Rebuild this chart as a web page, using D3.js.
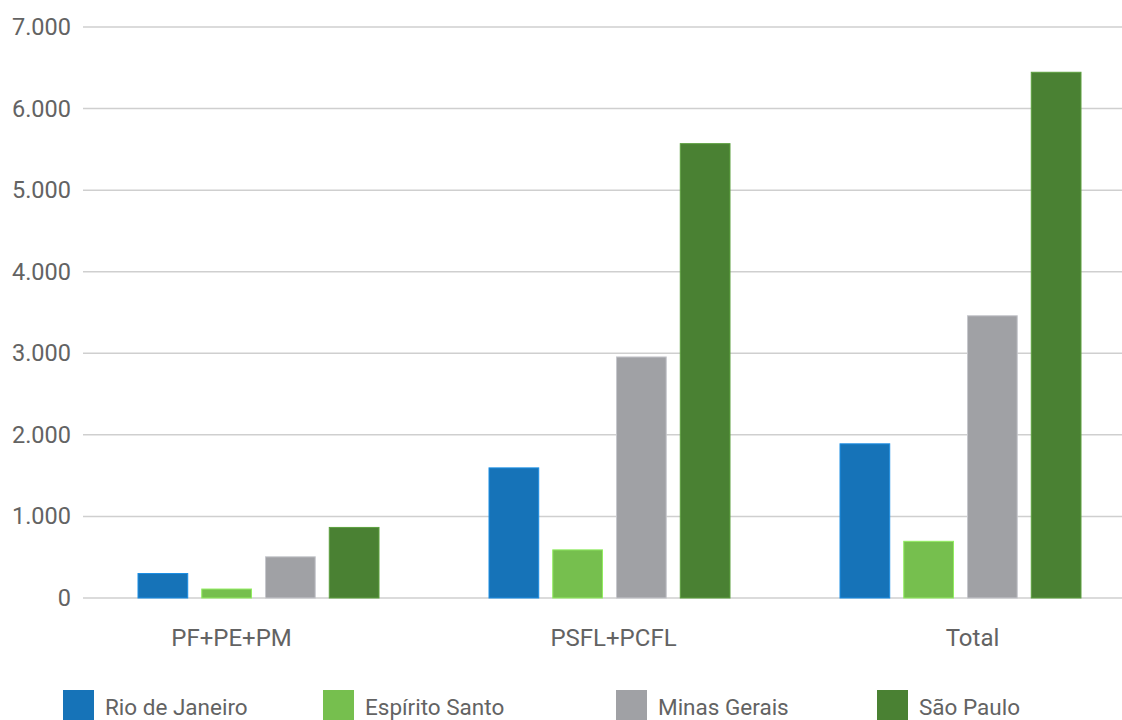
<!DOCTYPE html>
<html>
<head>
<meta charset="utf-8">
<script src="https://cdn.jsdelivr.net/npm/d3@7"></script>
<style>
    body { margin: 0; background: #fff; }
    text { font-family: Roboto, "Noto Sans", sans-serif; fill: #636363; }
</style>
</head>
<body>
<script>
    let categories = ["PF+PE+PM", "PSFL+PCFL", "Total"];
    let seriesNames = ["Rio de Janeiro", "Espírito Santo", "Minas Gerais", "São Paulo"];
    let seriesColors = ["#1673b8", "#76bf4e", "#a0a1a5", "#4a8133"];
    let rioValues = [300, 1595, 1890];
    let espiritoValues = [110, 590, 695];
    let minasValues = [505, 2955, 3460];
    let saoPauloValues = [865, 5570, 6445];
    let yTicks = [0, 1000, 2000, 3000, 4000, 5000, 6000, 7000];

    let allValues = [rioValues, espiritoValues, minasValues, saoPauloValues];

    window.onload = function () {
        let width = 1122,
            height = 720;

        let svg = d3.select("body")
            .append("svg")
            .attr("width", width)
            .attr("height", height);

        //x scale for the groups, and one inside each group for the states
        let x0 = d3.scaleBand()
            .domain(categories)
            .range([83, 1136])
            .padding(0);

        let x1 = d3.scaleBand()
            .domain(seriesNames)
            .range([55, 296])
            .paddingInner(0.22);

        let y = d3.scaleLinear()
            .domain([0, 7000])
            .range([598, 27]);

        //gridlines
        svg.selectAll(".grid")
            .data(yTicks)
            .enter()
            .append("line")
            .attr("class", "grid")
            .attr("x1", 83)
            .attr("x2", width)
            .attr("y1", function (d) { return y(d); })
            .attr("y2", function (d) { return y(d); })
            .attr("stroke", "#cfcfcf")
            .attr("stroke-width", 1.5);

        //y axis labels
        let fmt = function (d) {
            return d3.format(",")(d).replace(/,/g, ".");
        };
        let yAxis = d3.axisLeft(y)
            .tickValues(yTicks)
            .tickFormat(fmt)
            .tickSize(0)
            .tickPadding(12);
        let yG = svg.append("g")
            .attr("transform", "translate(83,0)")
            .call(yAxis);
        yG.select(".domain").remove();
        yG.selectAll("text")
            .attr("font-size", 23.5)
            .attr("font-family", null);

        //bars
        let groups = svg.selectAll(".group")
            .data(categories)
            .enter()
            .append("g")
            .attr("class", "group")
            .attr("transform", function (d) {
                return "translate(" + x0(d) + ",0)";
            });

        groups.selectAll("rect")
            .data(function (d, i) {
                return seriesNames.map(function (s, j) {
                    return { name: s, value: allValues[j][i], color: seriesColors[j] };
                });
            })
            .enter()
            .append("rect")
            .attr("x", function (d) { return x1(d.name); })
            .attr("width", x1.bandwidth())
            .attr("y", function (d) { return y(d.value); })
            .attr("height", function (d) { return y(0) - y(d.value); })
            .attr("fill", function (d) { return d.color; })
            .attr("stroke", function (d) { return d3.color(d.color).brighter(0.6); })
            .attr("stroke-width", 1);

        //category labels (the original ones sit a bit off the group centres)
        let labelShift = [-27, 4, 12];
        let xAxis = d3.axisBottom(x0)
            .tickSize(0)
            .tickPadding(31);
        let xG = svg.append("g")
            .attr("transform", "translate(0,598)")
            .call(xAxis);
        xG.select(".domain").remove();
        xG.selectAll("text")
            .attr("x", function (d, i) { return labelShift[i]; })
            .attr("font-size", 24)
            .attr("font-family", null);

        //legend
        let legendX = [63, 323, 616, 877];
        let legend = svg.selectAll(".legend")
            .data(seriesNames)
            .enter()
            .append("g")
            .attr("class", "legend")
            .attr("transform", function (d, i) {
                return "translate(" + legendX[i] + ",690)";
            });

        legend.append("rect")
            .attr("width", 31)
            .attr("height", 30)
            .attr("fill", function (d, i) { return seriesColors[i]; });

        legend.append("text")
            .attr("x", 42)
            .attr("y", 25)
            .attr("font-size", 22.5)
            .text(function (d) { return d; });
    };
</script>
</body>
</html>
